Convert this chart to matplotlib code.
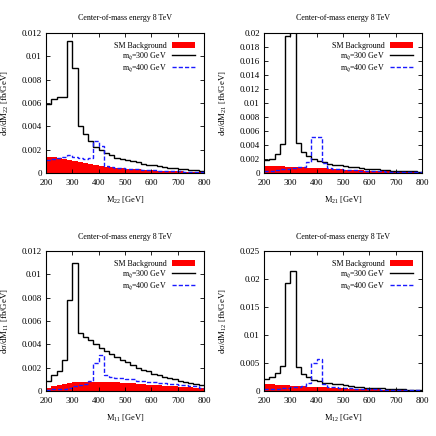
import numpy as np
import matplotlib
matplotlib.use("Agg")
import matplotlib.pyplot as plt
from matplotlib.patches import Patch

plt.rcParams['font.family'] = ['Liberation Serif', 'DejaVu Serif']
plt.rcParams['mathtext.fontset'] = 'custom'
plt.rcParams['mathtext.rm'] = 'Liberation Serif'
plt.rcParams['mathtext.it'] = 'Liberation Serif:italic'

edges = np.arange(200, 801, 20)

# M22
m22_bkg = [0.0014, 0.0014, 0.0013, 0.0012, 0.0011, 0.0010, 0.0009, 0.00085, 0.0008, 0.0007,
           0.0006, 0.00055, 0.0005, 0.00045, 0.0004, 0.00037, 0.00034, 0.0003, 0.00027, 0.00025,
           0.00022, 0.0002, 0.00018, 0.00016, 0.00014, 0.00013, 0.00012, 0.0001, 0.00009, 0.00008]
m22_300 = [0.0059, 0.0063, 0.0065, 0.0065, 0.0113, 0.0090, 0.0040, 0.0033, 0.0027, 0.0022,
           0.0020, 0.0017, 0.0015, 0.0013, 0.0012, 0.0011, 0.0010, 0.0009, 0.0008, 0.0007,
           0.00065, 0.0006, 0.0005, 0.00045, 0.0004, 0.00035, 0.0003, 0.00028, 0.00025, 0.0002]
m22_400 = [0.0011, 0.0012, 0.0013, 0.0014, 0.0015, 0.0014, 0.0013, 0.0012, 0.0013, 0.0027,
           0.0023, 0.0006, 0.0005, 0.00045, 0.0004, 0.00037, 0.00034, 0.0003, 0.00027, 0.00025,
           0.00022, 0.0002, 0.00018, 0.00016, 0.00015, 0.00014, 0.00012, 0.00011, 0.0001, 0.0001]

# M21
m21_bkg = [0.00105, 0.001, 0.001, 0.00095, 0.0009, 0.00088, 0.00085, 0.0008, 0.00075, 0.0007,
           0.00068, 0.00065, 0.0006, 0.00055, 0.0005, 0.00047, 0.00044, 0.0004, 0.00037, 0.00034,
           0.0003, 0.00027, 0.00024, 0.00022, 0.0002, 0.00018, 0.00016, 0.00014, 0.00012, 0.0001]
m21_300 = [0.0018, 0.0020, 0.0027, 0.0041, 0.0196, 0.0215, 0.0043, 0.0030, 0.0024, 0.0020,
           0.0017, 0.0015, 0.0013, 0.0012, 0.0011, 0.0010, 0.0009, 0.0008, 0.0007, 0.0006,
           0.00055, 0.0005, 0.00045, 0.0004, 0.00035, 0.0003, 0.00028, 0.00025, 0.00022, 0.0002]
m21_400 = [0.0003, 0.0003, 0.0004, 0.0005, 0.0006, 0.0007, 0.0008, 0.0009, 0.0015, 0.0052,
           0.0052, 0.0014, 0.0007, 0.0006, 0.0005, 0.00045, 0.0004, 0.00037, 0.00034, 0.0003,
           0.00027, 0.00025, 0.00022, 0.0002, 0.00018, 0.00016, 0.00014, 0.00012, 0.0001, 0.0001]

# M11
m11_bkg = [0.0003, 0.0004, 0.0005, 0.0006, 0.0007, 0.00075, 0.00078, 0.0008, 0.0008, 0.0008,
           0.0008, 0.0008, 0.00078, 0.00075, 0.0007, 0.00068, 0.00065, 0.0006, 0.00058, 0.00055,
           0.0005, 0.00048, 0.00045, 0.00042, 0.0004, 0.00038, 0.00035, 0.00033, 0.0003, 0.0003]
m11_300 = [0.00086, 0.0014, 0.0017, 0.0027, 0.0078, 0.0110, 0.0050, 0.0046, 0.0044, 0.0040,
           0.0037, 0.0034, 0.0032, 0.0029, 0.0027, 0.0025, 0.0022, 0.0020, 0.0018, 0.0017,
           0.0015, 0.0014, 0.0012, 0.0011, 0.0010, 0.0009, 0.0008, 0.0007, 0.0006, 0.0005]
m11_400 = [0.0001, 0.00015, 0.0002, 0.0002, 0.0003, 0.0004, 0.0005, 0.0006, 0.0009, 0.0024,
           0.0031, 0.0014, 0.0012, 0.0011, 0.0011, 0.0010, 0.0010, 0.0009, 0.0009, 0.0008,
           0.0008, 0.0007, 0.0007, 0.0006, 0.0006, 0.0005, 0.0005, 0.0004, 0.0004, 0.0003]

# M12
m12_bkg = [0.0012, 0.0012, 0.0011, 0.0011, 0.001, 0.00095, 0.0009, 0.00085, 0.0008, 0.00075,
           0.0007, 0.00065, 0.0006, 0.00055, 0.0005, 0.00047, 0.00044, 0.0004, 0.00037, 0.00034,
           0.0003, 0.00027, 0.00024, 0.00022, 0.0002, 0.00018, 0.00016, 0.00014, 0.00012, 0.0001]
m12_300 = [0.0022, 0.0025, 0.0032, 0.0044, 0.0193, 0.0214, 0.0042, 0.0031, 0.0025, 0.0020,
           0.0018, 0.0015, 0.0014, 0.0013, 0.0012, 0.0010, 0.0009, 0.0008, 0.0007, 0.0006,
           0.00055, 0.0005, 0.00045, 0.0004, 0.00035, 0.0003, 0.00028, 0.00025, 0.00022, 0.0002]
m12_400 = [0.0003, 0.0003, 0.0004, 0.0005, 0.0006, 0.0007, 0.0008, 0.0009, 0.0015, 0.0050,
           0.0057, 0.0013, 0.0008, 0.0007, 0.0006, 0.0005, 0.00045, 0.0004, 0.00037, 0.00034,
           0.0003, 0.00027, 0.00025, 0.00022, 0.0002, 0.00018, 0.00016, 0.00014, 0.00012, 0.0001]

panels = [
    ("22", m22_bkg, m22_300, m22_400, 0.012, 0.002),
    ("21", m21_bkg, m21_300, m21_400, 0.02, 0.002),
    ("11", m11_bkg, m11_300, m11_400, 0.012, 0.002),
    ("12", m12_bkg, m12_300, m12_400, 0.025, 0.005),
]

def fmt(v):
    if v == 0:
        return "0"
    return "{:.3f}".format(v).rstrip("0")

fig = plt.figure(figsize=(4.36, 4.36), dpi=100)
W = 436.0
positions = [(46, 33), (264, 33), (46, 251), (264, 251)]
aw, ah = 158, 140
blue = '#1a1aff'
dash = (0, (3, 1.5))

for (sub, bkg, s300, s400, ymax, ystep), (lx, ty) in zip(panels, positions):
    ax = fig.add_axes([lx / W, (W - ty - ah) / W, aw / W, ah / W])
    ax.stairs(bkg, edges, fill=True, color='#ff0000', linewidth=0)
    ax.stairs(s300, edges, baseline=None, color='black', linewidth=1.0)
    ax.stairs(s400, edges, baseline=None, color=blue, linewidth=1.0, linestyle=dash)
    ax.set_xlim(200, 800)
    ax.set_ylim(0, ymax)
    yt = np.arange(0, ymax + ystep / 2, ystep)
    ax.set_yticks(yt)
    ax.set_yticklabels([fmt(round(v, 4)) for v in yt])
    ax.set_xticks(np.arange(200, 801, 100))
    ax.tick_params(direction='in', top=True, right=True, length=3, width=0.6,
                   labelsize=6.5, pad=3)
    ax.tick_params(axis='x', pad=4)
    for sp in ax.spines.values():
        sp.set_linewidth(0.8)
    ax.set_title("Center-of-mass energy 8 TeV", fontsize=5.8, pad=9)
    ax.set_ylabel("d\u03c3/dM$_{" + sub + "}$ [fb/GeV]", fontsize=6.3)
    ax.yaxis.set_label_coords(-0.222, 0.5)
    ax.set_xlabel("M$_{" + sub + "}$ [GeV]", fontsize=6.0, va='top')
    ax.xaxis.set_label_coords(0.5, -0.155)
    handles = [Patch(facecolor='#ff0000', edgecolor='none'),
               plt.Line2D([], [], color='black', linewidth=1.0),
               plt.Line2D([], [], color=blue, linewidth=1.0, linestyle=dash)]
    labels = ["SM Background", "m$_{\\tilde{q}}$=300 GeV", "m$_{\\tilde{q}}$=400 GeV"]
    ax.legend(handles, labels, loc='upper right', frameon=False, fontsize=5.8,
              markerfirst=False, handlelength=2.9, handleheight=0.8, handletextpad=0.6,
              labelspacing=0.05, borderaxespad=0.7, borderpad=0.4)

fig.savefig("out.png", dpi=100)
